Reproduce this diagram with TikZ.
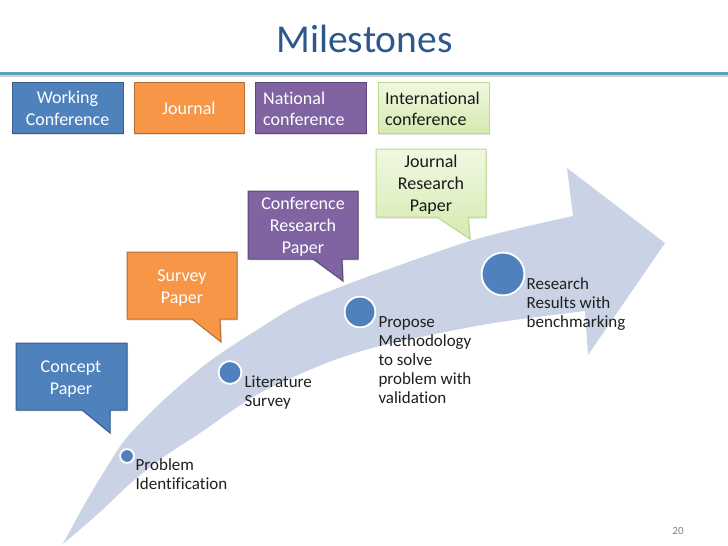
\documentclass[tikz,border=0pt]{standalone}
\usepackage{fontspec}
\setmainfont{Carlito}[Ligatures=CommonOff]
\usetikzlibrary{shadows}
\definecolor{cblue}{RGB}{79,129,189}
\definecolor{cblueD}{RGB}{56,93,138}
\definecolor{corange}{RGB}{247,150,70}
\definecolor{corangeD}{RGB}{182,109,49}
\definecolor{cpurple}{RGB}{128,100,162}
\definecolor{cpurpleD}{RGB}{92,71,118}
\definecolor{cgreenT}{RGB}{240,248,226}
\definecolor{cgreenB}{RGB}{214,234,176}
\definecolor{cgreenD}{RGB}{190,215,140}
\definecolor{bandc}{RGB}{201,211,229}
\definecolor{titleblue}{RGB}{44,88,140}
\definecolor{rulec}{RGB}{93,160,188}
\begin{document}
\begin{tikzpicture}[x=1pt,y=-1pt,
  box/.style={line width=1pt},
  shadowed/.style={drop shadow={opacity=0.22, shadow xshift=1.2pt, shadow yshift=-1.5pt}},
  lbl/.style={font=\fontsize{17}{19}\selectfont, align=left, anchor=base west, inner sep=0pt, text=black!88},
  ctext/.style={font=\fontsize{18}{22}\selectfont, align=center, anchor=base, inner sep=0pt, text=white},
  ltext/.style={font=\fontsize{18}{21}\selectfont, align=left, anchor=base west, inner sep=0pt, text=white},
  dot/.style={circle, fill=cblue, draw=white, line width=1.8pt, inner sep=0pt}
]
\useasboundingbox (0,0) rectangle (728,546);
\fill[white] (0,0) rectangle (728,546);

% title
\node[font=\fontsize{39.5}{46}\selectfont, text=titleblue, anchor=base, inner sep=0pt] (title) at (364.5,52) {Milestones};
\draw[black!18, line width=2pt] (0,76) -- (728,76);
\draw[rulec, line width=3pt] (0,73) -- (728,73);

% legend
\draw[box, fill=cblue, draw=cblueD, shadowed] (12,82) rectangle (123,133);
\draw[box, fill=corange, draw=corangeD, shadowed] (134,82) rectangle (244,133);
\draw[box, fill=cpurple, draw=cpurpleD, shadowed] (255,82) rectangle (366,133);
\draw[box, top color=cgreenT, bottom color=cgreenB, draw=cgreenD, shadowed] (378,82) rectangle (489,133);
\node[ctext] (lwc) at (67.5,125) {Working\\Conference};
\node[ctext] (lj) at (189,114.3) {Journal};
\node[ltext] (lnc) at (263,125) {National\\conference};
\node[ltext, text=black!90] (lic) at (385,125) {International\\conference};

% band arrow
\fill[bandc] plot[smooth, tension=0.55] coordinates {(63,544) (83,507) (107,467) (128,436) (167,397) (210,361) (260,328) (300,304) (343,286) (400,265) (470,241) (520,228) (573,216)}
  -- (567,168) -- (665,243) -- (588,355) -- (585,311)
  -- plot[smooth, tension=0.55] coordinates {(585,311) (500,322) (440,333) (380,346) (340,358) (300,374) (260,393) (233,410) (200,433) (165,456) (133,481) (100,512) (63,544)} -- cycle;

% callouts
\draw[box, fill=cblue, draw=cblueD, shadowed] (16,343) -- (127,343) -- (127,410) -- (110,410) -- (110,433) -- (82,410) -- (16,410) -- cycle;
\draw[box, fill=corange, draw=corangeD, shadowed] (127,252) -- (237,252) -- (237,319) -- (220,319) -- (221,342) -- (192,319) -- (127,319) -- cycle;
\draw[box, fill=cpurple, draw=cpurpleD, shadowed] (248,191) -- (358,191) -- (358,259) -- (342,259) -- (343,281) -- (313,259) -- (248,259) -- cycle;
\draw[box, top color=cgreenT, bottom color=cgreenB, draw=cgreenD, shadowed] (376,149) -- (486,149) -- (486,217) -- (468,217) -- (470,239) -- (437,217) -- (376,217) -- cycle;
\node[ctext] (cp) at (71,394) {Concept\\Paper};
\node[ctext] (sp) at (182,303) {Survey\\Paper};
\node[ctext] (crp) at (303,253) {Conference\\Research\\Paper};
\node[ctext, text=black!90] (jrp) at (431,211) {Journal\\Research\\Paper};

% milestones
\node[dot, minimum size=13.8pt] (d1) at (127,456) {};
\node[dot, minimum size=22.8pt] (d2) at (230,372.5) {};
\node[dot, minimum size=30.8pt] (d3) at (360,312) {};
\node[dot, minimum size=42.8pt] (d4) at (503,274) {};
\node[lbl] (t1) at (135.5,489) {Problem\\Identification};
\node[lbl] (t2) at (244.3,406) {Literature\\Survey};
\node[lbl] (t3) at (378.3,403) {Propose\\Methodology\\to solve\\problem with\\validation};
\node[lbl] (t4) at (526.5,327.3) {Research\\Results with\\benchmarking};

% page number
\node[font=\fontsize{11}{13}\selectfont, text=black!50, anchor=base, inner sep=0pt] (pg) at (678,534) {20};
\end{tikzpicture}
\end{document}
